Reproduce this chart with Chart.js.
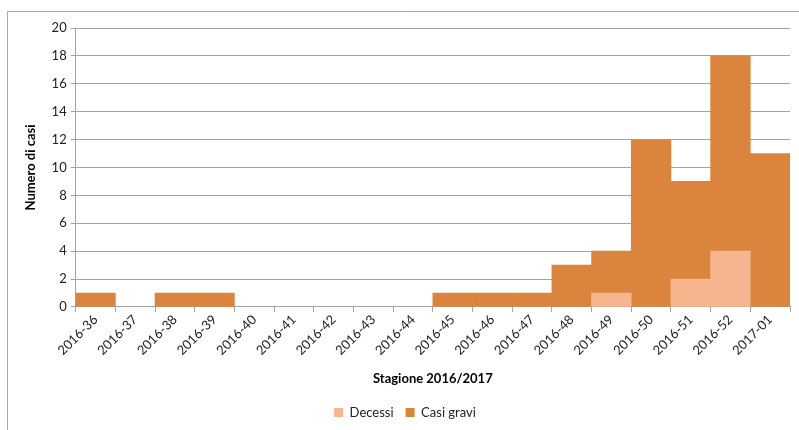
<!DOCTYPE html>
<html>
<head>
<meta charset="utf-8">
<script src="https://cdn.jsdelivr.net/npm/chart.js@4"></script>
<style>
  html, body { margin: 0; padding: 0; background: #fff; }
  #box { width: 799px; height: 430px; }
</style>
</head>
<body>
<div id="box"><canvas id="grafico"></canvas></div>
<script>
/* dati */
const settimane = ['2016-36','2016-37','2016-38','2016-39','2016-40','2016-41','2016-42','2016-43','2016-44',
  '2016-45','2016-46','2016-47','2016-48','2016-49','2016-50','2016-51','2016-52','2017-01'];
const decessi =    [0,0,0,0,0,0,0,0,0,0,0,0,0,1,0,2,4,0];
const casiGravi =  [1,0,1,1,0,0,0,0,0,1,1,1,3,3,12,7,14,11];
const tickY = [0,2,4,6,8,10,12,14,16,18,20];

const FONT = 'Lato, "Open Sans", sans-serif';
const GRIGIO = '#a3a3a3';

// gli zeri non disegnano barre (niente righe sottili sull'asse)
const senzaZeri = arr => arr.map(v => (v === 0 ? null : v));

// cornice grigia attorno al grafico (tagliata a destra e in basso)
const cornice = {
  id: 'cornice',
  afterDraw(chart) {
    const c = chart.ctx;
    c.save();
    c.strokeStyle = '#a6a6a6';
    c.lineWidth = 1;
    c.beginPath();
    c.moveTo(7.5, 440);
    c.lineTo(7.5, 11.5);
    c.lineTo(810, 11.5);
    c.stroke();
    c.restore();
  }
};

new Chart(document.getElementById('grafico'), {
  type: 'bar',
  data: {
    labels: settimane,
    datasets: [
      {
        label: 'Decessi',
        data: senzaZeri(decessi),
        backgroundColor: 'rgb(247,181,143)',
        barPercentage: 1,
        categoryPercentage: 1
      },
      {
        label: 'Casi gravi',
        data: senzaZeri(casiGravi),
        backgroundColor: 'rgb(218,132,61)',
        barPercentage: 1,
        categoryPercentage: 1
      }
    ]
  },
  options: {
    responsive: true,
    maintainAspectRatio: false,
    animation: false,
    layout: { padding: { left: 20, right: 9, top: 28, bottom: 1 } },
    plugins: {
      legend: {
        position: 'bottom',
        labels: {
          boxWidth: 9,
          boxHeight: 9,
          padding: 12,
          color: '#222',
          font: { family: FONT, size: 13 }
        }
      },
      tooltip: { enabled: false }
    },
    scales: {
      x: {
        stacked: true,
        offset: true,
        z: 1,
        grid: {
          offset: true,
          drawOnChartArea: false,
          tickLength: 5,
          color: GRIGIO
        },
        border: { color: GRIGIO },
        ticks: {
          maxRotation: 45,
          minRotation: 45,
          padding: 0,
          color: '#222',
          font: { family: FONT, size: 13 }
        },
        title: {
          display: true,
          text: 'Stagione 2016/2017',
          color: '#000',
          font: { family: FONT, size: 13, weight: 'bold' },
          padding: { top: 13, bottom: 7 }
        }
      },
      y: {
        stacked: true,
        min: 0,
        max: 20,
        afterBuildTicks: axis => { axis.ticks = tickY.map(v => ({ value: v })); },
        grid: { color: GRIGIO, tickLength: 5 },
        border: { color: GRIGIO },
        ticks: {
          padding: 4,
          color: '#222',
          font: { family: FONT, size: 13 }
        },
        title: {
          display: true,
          text: 'Numero di casi',
          color: '#000',
          font: { family: FONT, size: 13, weight: 'bold' },
          padding: { top: 3, bottom: 9 }
        }
      }
    }
  },
  plugins: [cornice]
});
</script>
</body>
</html>
